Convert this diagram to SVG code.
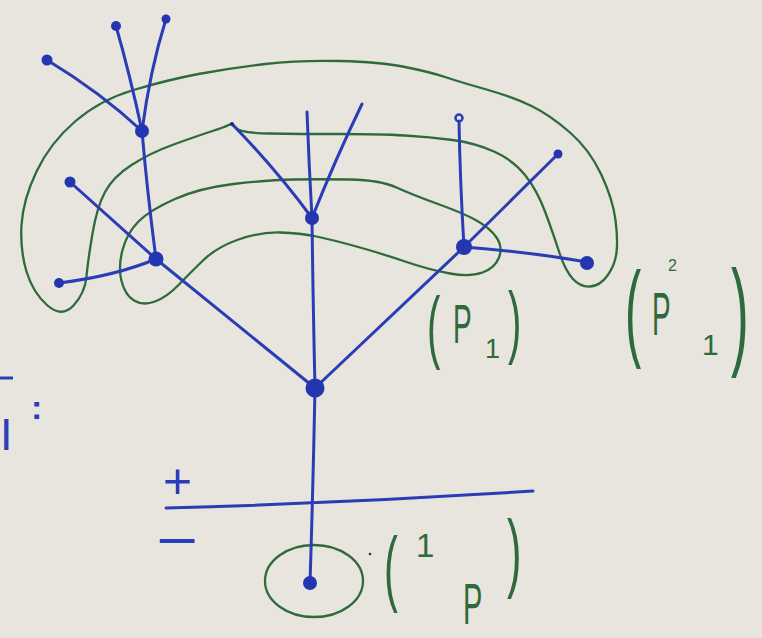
<svg xmlns="http://www.w3.org/2000/svg" width="762" height="638" viewBox="0 0 762 638">
<style>
.e{fill:none;stroke:#2b3db6;stroke-width:3;stroke-linecap:round}
.d{fill:#2435b0}
.g{fill:none;stroke:#2e6a3a;stroke-width:2.3;stroke-linejoin:round}
.t{font-family:"Liberation Sans",Arial,sans-serif;fill:#2e6a3a}
.b{font-family:"Liberation Sans",Arial,sans-serif;fill:#2b3db6}
</style>
<rect width="762" height="638" fill="#e7e5de"/>

<g id="regions">
<path class="g" d="M405,67 Q380,62 340,61 Q300,60 265,64 Q230,68 198.5,74 Q167,80 133.5,90 Q100,100 75,121.5 Q50,143 36.5,171.5 Q23,200 21.5,225 Q20,250 26.5,271.5 Q33,293 47.5,305.5 Q62,318 73.5,305.5 Q85,293 86.5,276.5 Q88,260 92.5,233.5 Q97,207 105,192 Q113,177 131.5,165 Q150,153 175,144 Q200,135 212.5,131 Q225,127 228.5,125 Q232,123 236,128 Q240,133 270,133.5 Q300,134 340,134 Q380,134 405,135.5 Q430,137 452.5,140 Q475,143 494,151.5 Q513,160 525,175 Q537,190 545,211.5 Q553,233 559,251.5 Q565,270 572.5,278.5 Q580,287 590,286.5 Q600,286 607.5,275.5 Q615,265 616.5,252.5 Q618,240 615.5,220 Q613,200 601.5,175 Q590,150 570,132.5 Q550,115 531.5,106 Q513,97 486.5,89.5 Q460,82 445,77 Q430,72 405,67 Z"/>
<path class="g" d="M396.5,187.5 Q380,180 350,179.5 Q320,179 293.5,179.5 Q267,180 233.5,184 Q200,188 175,199 Q150,210 138.5,221.5 Q127,233 122.5,250 Q118,267 121.5,281 Q125,295 134,300.5 Q143,306 155,301.5 Q167,297 178.5,285 Q190,273 203.5,260 Q217,247 238.5,239.5 Q260,232 280,232.5 Q300,233 316.5,236.5 Q333,240 356.5,246.5 Q380,253 405,261.5 Q430,270 450,273.5 Q470,277 482.5,272.5 Q495,268 499,257.5 Q503,247 496.5,237.5 Q490,228 476.5,220.5 Q463,213 438,204 Q413,195 396.5,187.5 Z"/>
<ellipse class="g" cx="314" cy="581" rx="49" ry="36"/>
</g>

<g id="connectors">
<path class="e" d="M315,388 Q313,490 310,583"/>
<path class="e" stroke-width="2.5" d="M166,508 Q350,503 533,491"/>
<path class="e" d="M315,388 L156,259"/>
<path class="e" d="M315,388 Q313,300 312,218"/>
<path class="e" d="M315,388 L464,247"/>
<path class="e" d="M156,259 L70,182"/>
<path class="e" d="M156,259 Q115,276 59,283"/>
<path class="e" d="M156,259 Q147,190 142,131"/>
<path class="e" d="M142,131 Q100,92 47,60"/>
<path class="e" d="M142,131 Q130,75 116,26"/>
<path class="e" d="M142,131 Q150,70 166,19"/>
<path class="e" d="M312,218 Q275,168 232,124"/>
<path class="e" d="M312,218 Q309,165 307,112"/>
<path class="e" d="M312,218 Q335,160 362,104"/>
<path class="e" d="M464,247 Q460,180 459,121"/>
<path class="e" d="M464,247 L558,154"/>
<path class="e" d="M464,247 Q530,252 587,262"/>
</g>

<g id="n-root"><circle class="d" cx="310" cy="583" r="7"/></g>
<g id="n-main"><circle class="d" cx="315" cy="388" r="9.5"/></g>
<g id="n-left"><circle class="d" cx="156" cy="259" r="7.5"/></g>
<g id="n-upleft"><circle class="d" cx="142" cy="131" r="7"/></g>
<g id="n-mid"><circle class="d" cx="312" cy="218" r="7"/></g>
<g id="n-right"><circle class="d" cx="464" cy="247" r="8"/></g>
<g id="l1"><circle class="d" cx="47" cy="60" r="5.5"/></g>
<g id="l2"><circle class="d" cx="116" cy="26" r="5"/></g>
<g id="l3"><circle class="d" cx="166" cy="19" r="4.5"/></g>
<g id="l4"><circle class="d" cx="70" cy="182" r="5.5"/></g>
<g id="l5"><circle class="d" cx="59" cy="283" r="5"/></g>
<g id="l6"><circle cx="459" cy="118" r="3.5" fill="none" stroke="#2b3db6" stroke-width="2.5"/></g>
<g id="l7"><circle class="d" cx="558" cy="154" r="4.5"/></g>
<g id="l8"><circle class="d" cx="587" cy="263" r="7"/></g>
<g id="l9"><circle cx="232" cy="124" r="2" fill="#1d2a6e"/></g>
<circle cx="370" cy="554" r="1.3" fill="#1d2a6e"/>

<g id="signs">
<text class="b" font-size="50" transform="translate(163,498)">+</text>
<text class="b" font-size="55" transform="translate(156,559) scale(1.3,1)">−</text>
<line x1="0" y1="378" x2="13" y2="378" stroke="#2b3db6" stroke-width="3"/>
<text class="b" font-size="45" x="0" y="450">I</text>
<text class="b" font-size="34" font-weight="bold" x="31" y="419">:</text>
</g>

<g id="label-p1">
<text class="t" font-size="80" transform="translate(427,353) scale(0.5,1)">(</text>
<text class="t" font-size="56" transform="translate(453,343) scale(0.5,1)">P</text>
<text class="t" font-size="27" x="485" y="358">1</text>
<text class="t" font-size="80" transform="translate(508,348) scale(0.5,1)">)</text>
</g>

<g id="label-p21">
<text class="t" font-size="108" transform="translate(625,347) scale(0.45,1)">(</text>
<text class="t" font-size="62" transform="translate(652,335) scale(0.45,1)">P</text>
<text class="t" font-size="16" x="668" y="271">2</text>
<text class="t" font-size="30" x="702" y="355">1</text>
<text class="t" font-size="118" transform="translate(731,353) scale(0.45,1)">)</text>
</g>

<g id="label-1p">
<text class="t" font-size="83" transform="translate(384,596) scale(0.5,1)">(</text>
<text class="t" font-size="33" x="416" y="557">1</text>
<text class="t" font-size="58" transform="translate(463,624) scale(0.5,1)">P</text>
<text class="t" font-size="87" transform="translate(507,581) scale(0.5,1)">)</text>
</g>
</svg>
